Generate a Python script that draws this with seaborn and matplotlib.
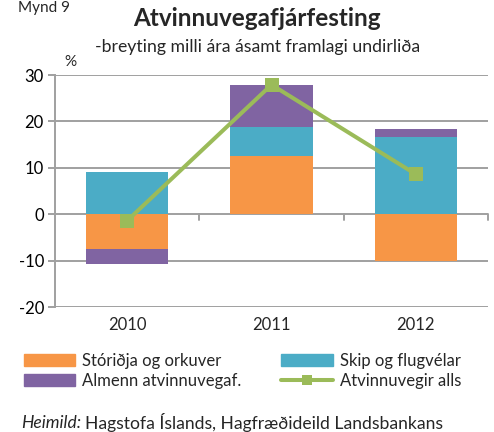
import matplotlib
matplotlib.use("Agg")
import matplotlib.pyplot as plt
import seaborn as sns
import numpy as np
from matplotlib.patches import Patch
from matplotlib.lines import Line2D

years = ["2010", "2011", "2012"]
storidja = [-7.6, 12.6, -10.0]
skip = [9.1, 6.1, 16.6]
almenn = [-3.1, 9.2, 1.8]
total = [-1.4, 27.9, 8.6]
series_names = ["Stóriðja og orkuver", "Skip og flugvélar", "Almenn atvinnuvegaf.", "Atvinnuvegir alls"]
yticks = [-20, -10, 0, 10, 20, 30]

colors = ["#F79646", "#4BACC6", "#8064A2"]
green = "#9BBB59"
gridc = "#A0A0A0"

sns.set_style("white")
plt.rcParams["font.family"] = ["Lato", "DejaVu Sans"]

fig = plt.figure(figsize=(4.94, 4.32), dpi=100)
ax = fig.add_axes([55/494, 1-307/432, (488-55)/494, (307-75)/432])

x = np.arange(len(years))
pos_bottom = np.zeros(len(years))
neg_bottom = np.zeros(len(years))
for vals, c in zip([storidja, skip, almenn], colors):
    v = np.array(vals)
    b = np.where(v >= 0, pos_bottom, neg_bottom)
    ax.bar(x, v, width=0.57, bottom=b, color=c, zorder=3, linewidth=0)
    pos_bottom = pos_bottom + np.where(v >= 0, v, 0)
    neg_bottom = neg_bottom + np.where(v < 0, v, 0)

sns.lineplot(x=x, y=total, ax=ax, color=green, linewidth=2.9, marker="s",
             markersize=10, markeredgewidth=0, zorder=4)

ax.set_xlim(-0.5, 2.5)
ax.set_ylim(-20, 30)
ax.set_yticks(yticks)
ax.set_yticklabels([str(t) for t in yticks], fontsize=12)
for t in yticks:
    ax.axhline(t, color=gridc, linewidth=1.4, zorder=1)
for s in ["top", "right", "bottom"]:
    ax.spines[s].set_visible(False)
ax.spines["left"].set_color(gridc)
ax.spines["left"].set_linewidth(1.4)
ax.tick_params(axis="y", left=True, length=5, width=1.4, color=gridc, pad=3, labelcolor="black")
ax.set_xticks([])
for xb in [0.5, 1.5, 2.5]:
    ax.plot([xb, xb], [0, -1.2], color=gridc, linewidth=1.4, zorder=2, clip_on=False)
for xi, yr in zip(x, years):
    ax.text(xi, -23.8, yr, ha="center", va="center", fontsize=12)

fig.text(18/494, 1-8/432, "Mynd 9", ha="left", va="center", fontsize=11)
fig.text(257/494, 1-18/432, "Atvinnuvegafjárfesting", ha="center", va="center",
         fontsize=17.5, fontweight="bold")
fig.text(258/494, 1-47/432, "-breyting milli ára ásamt framlagi undirliða", ha="center",
         va="center", fontsize=12.7)
fig.text(70/494, 1-62/432, "%", ha="center", va="center", fontsize=11)

handles = [Patch(color=colors[0]), Patch(color=colors[1]),
           Patch(color=colors[2]),
           Line2D([0], [0], color=green, linewidth=2.9, marker="s", markersize=7, markeredgewidth=0)]
labels = [series_names[0], series_names[1], series_names[2], series_names[3]]
order = [0, 2, 1, 3]
leg = fig.legend([handles[i] for i in order], [labels[i] for i in order],
                 loc="upper left", bbox_to_anchor=(17/494, 1-346/432), ncol=2,
                 frameon=False, fontsize=12, handlelength=3.1, handleheight=0.7,
                 columnspacing=2.4, handletextpad=0.4, labelspacing=0.25, borderaxespad=0)

t1 = fig.text(21/494, 1-423/432, "Heimild:", style="italic", ha="left", va="center", fontsize=12.6)
fig.canvas.draw()
bb = t1.get_window_extent()
fig.text(bb.x1/494 + 4/494, 1-423/432, "Hagstofa Íslands, Hagfræðideild Landsbankans",
         ha="left", va="center", fontsize=12.6)

fig.savefig("out.png", dpi=100)
